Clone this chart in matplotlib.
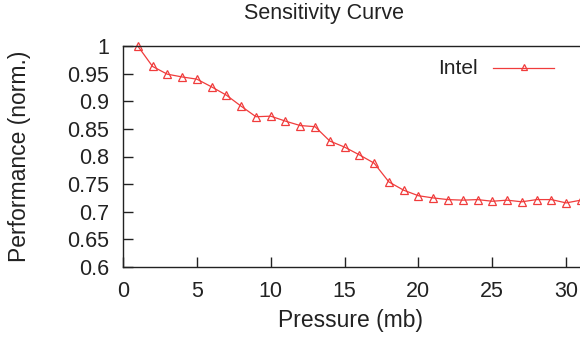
import matplotlib
matplotlib.use("Agg")
import matplotlib.pyplot as plt
from matplotlib.lines import Line2D

plt.rcParams['font.family'] = ['Liberation Sans', 'DejaVu Sans']

pressure = list(range(1, 32))
performance = [1.000, 0.963, 0.949, 0.944, 0.940, 0.926, 0.911, 0.891, 0.872, 0.873,
               0.864, 0.856, 0.854, 0.828, 0.817, 0.803, 0.788, 0.754, 0.739, 0.729,
               0.725, 0.722, 0.721, 0.722, 0.719, 0.721, 0.718, 0.722, 0.722, 0.716,
               0.721]
xticks = [0, 5, 10, 15, 20, 25, 30]
yticks = [0.6, 0.65, 0.7, 0.75, 0.8, 0.85, 0.9, 0.95, 1.0]
ytick_labels = ['0.6', '0.65', '0.7', '0.75', '0.8', '0.85', '0.9', '0.95', '1']

W, H = 580, 339
fig = plt.figure(figsize=(W / 100, H / 100), dpi=100)
left_px, right_px = 123, 640
top_px, bot_px = 46, 267
ax = fig.add_axes([left_px / W, 1 - bot_px / H, (right_px - left_px) / W, (bot_px - top_px) / H])
ax.set_xlim(0, 35)
ax.set_ylim(0.6, 1.0)

color = '#f03c3c'
ax.plot(pressure, performance, color=color, lw=0.9, marker='^', markersize=6,
        markerfacecolor='none', markeredgecolor=color, markeredgewidth=0.9, clip_on=False)

ax.set_xticks(xticks)
ax.set_yticks(yticks)
ax.set_yticklabels(ytick_labels)
ax.tick_params(axis='both', direction='in', length=7, width=1.0, labelsize=15.5,
               colors='#222222', top=False, right=False)
ax.tick_params(axis='y', pad=10)
ax.tick_params(axis='x', pad=10)
for s in ax.spines.values():
    s.set_linewidth(1.0)
    s.set_color('#222222')

fig.text(351 / W, 1 - 320 / H, 'Pressure (mb)', ha='center', va='center', fontsize=16.5, color='#222222')
fig.text(20 / W, 1 - 156 / H, 'Performance (norm.)', ha='center', va='center', rotation=90,
         fontsize=16.5, color='#222222')
fig.text(324 / W, 1 - 14 / H, 'Sensitivity Curve', ha='center', va='center', fontsize=15.5, color='#222222')

# legend
fig.text(478 / W, 1 - 68 / H, 'Intel', ha='right', va='center', fontsize=15, color='#222222')
fig.add_artist(Line2D([493 / W, 554 / W], [1 - 68 / H, 1 - 68 / H], color=color, lw=0.9,
                      transform=fig.transFigure))
fig.add_artist(Line2D([523.5 / W], [1 - 67 / H], color=color, marker='^', markersize=5,
                      markerfacecolor='none', markeredgecolor=color, markeredgewidth=0.9,
                      transform=fig.transFigure))

fig.savefig('out.png', dpi=100)
